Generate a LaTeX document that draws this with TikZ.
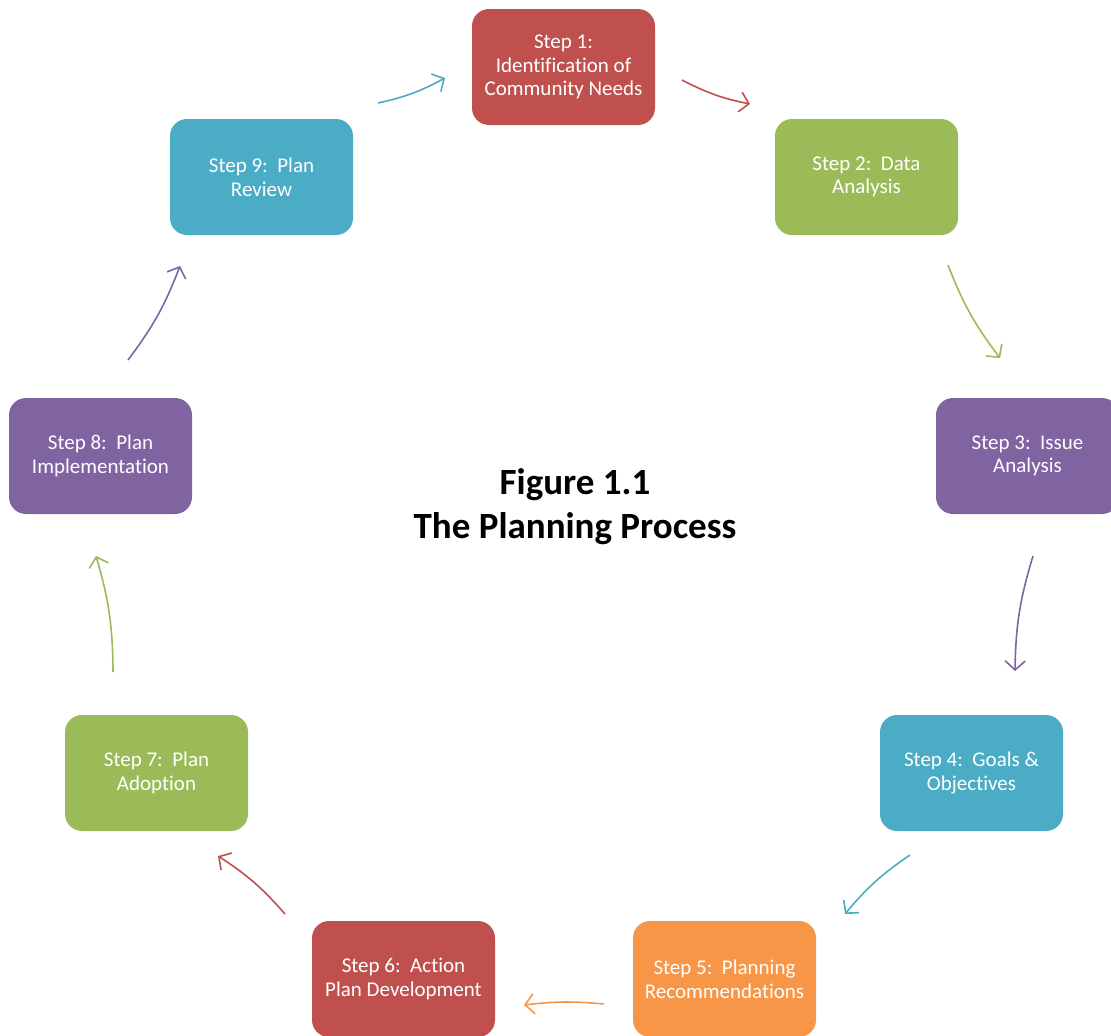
\documentclass[tikz,border=0pt]{standalone}
\usepackage{fontspec}
\setmainfont{Carlito}[Ligatures=NoCommon]
\usetikzlibrary{arrows.meta}
\definecolor{cred}{HTML}{C0504D}
\definecolor{cgreen}{HTML}{9BBB59}
\definecolor{cpurple}{HTML}{8064A2}
\definecolor{cblue}{HTML}{4BACC6}
\definecolor{corange}{HTML}{F79646}
\tikzset{
  stepbox/.style={rectangle, rounded corners=17pt, minimum width=183pt, minimum height=116pt,
    text=white, align=center, inner sep=0pt, font=\fontsize{21}{23.7}\selectfont},
  cyc/.style={line width=1.6pt, -{Straight Barb[length=9pt,width=20pt,line width=1.6pt]}},
}
\begin{document}
\begin{tikzpicture}[x=1pt,y=-1pt]
\useasboundingbox (0,0) rectangle (1111,1036);
\node[stepbox, fill=cred]    (s1) at (563.5,67)  {Step 1:\\Identification of\\Community Needs};
\node[stepbox, fill=cgreen]  (s2) at (866.5,177) {Step 2:\ \ Data\\Analysis};
\node[stepbox, fill=cpurple] (s3) at (1027.5,456) {Step 3:\ \ Issue\\Analysis};
\node[stepbox, fill=cblue]   (s4) at (971.5,773) {Step 4:\ \ Goals \&\\Objectives};
\node[stepbox, fill=corange] (s5) at (724.5,979) {Step 5:\ \ Planning\\Recommendations};
\node[stepbox, fill=cred]    (s6) at (403.5,979) {Step 6:\ \ Action\\Plan Development};
\node[stepbox, fill=cgreen]  (s7) at (156.5,773) {Step 7:\ \ Plan\\Adoption};
\node[stepbox, fill=cpurple] (s8) at (100.5,456) {Step 8:\ \ Plan\\Implementation};
\node[stepbox, fill=cblue]   (s9) at (261.5,177) {Step 9:\ \ Plan\\Review};
\node[align=center, font=\bfseries\fontsize{37}{44}\selectfont] (title) at (575,507) {Figure 1.1\\The Planning Process};
\coordinate (a12s) at (682,80);  \coordinate (a12e) at (750,104);
\coordinate (a23s) at (948,265); \coordinate (a23e) at (1000,358);
\coordinate (a34s) at (1033,556); \coordinate (a34e) at (1015,671);
\coordinate (a45s) at (910,855); \coordinate (a45e) at (845,914);
\coordinate (a56s) at (604,1004); \coordinate (a56e) at (524,1005);
\coordinate (a67s) at (285,914); \coordinate (a67e) at (218,856);
\coordinate (a78s) at (113,672); \coordinate (a78e) at (96,556);
\coordinate (a89s) at (128,360); \coordinate (a89e) at (180,266);
\coordinate (a91s) at (378,103); \coordinate (a91e) at (445,78);
\draw[cyc, cred]    (a12s) to[bend right=8] (a12e);
\draw[cyc, cgreen]  (a23s) to[bend right=8] (a23e);
\draw[cyc, cpurple] (a34s) to[bend right=8] (a34e);
\draw[cyc, cblue]   (a45s) to[bend right=8] (a45e);
\draw[cyc, corange] (a56s) to[bend right=6] (a56e);
\draw[cyc, cred]    (a67s) to[bend right=8] (a67e);
\draw[cyc, cgreen]  (a78s) to[bend right=8] (a78e);
\draw[cyc, cpurple] (a89s) to[bend right=8] (a89e);
\draw[cyc, cblue]   (a91s) to[bend right=8] (a91e);
\end{tikzpicture}
\end{document}
